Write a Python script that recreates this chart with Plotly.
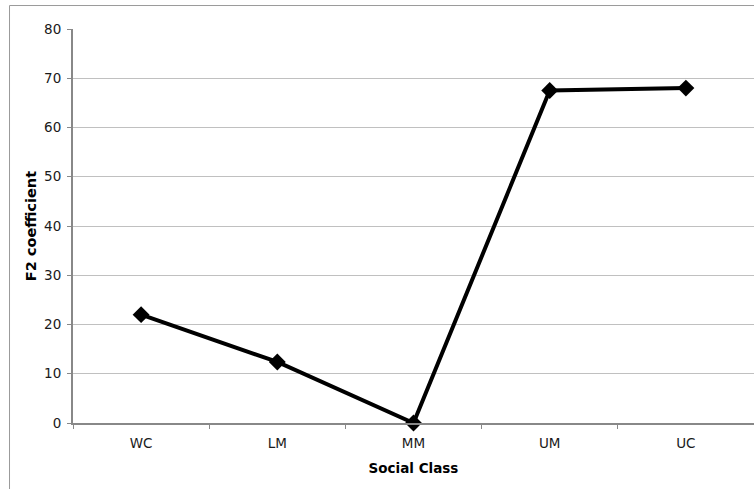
import plotly.graph_objects as go

categories = ["WC", "LM", "MM", "UM", "UC"]
f2_values = [22.0, 12.4, 0.0, 67.5, 68.0]
y_ticks = [0, 10, 20, 30, 40, 50, 60, 70, 80]

fig = go.Figure()
fig.add_trace(go.Scatter(
    x=categories, y=f2_values, mode="lines+markers",
    line=dict(color="black", width=4),
    marker=dict(symbol="diamond", size=13, color="black"),
    showlegend=False, cliponaxis=False,
))

font_family = "DejaVu Sans, Verdana, sans-serif"
fig.update_layout(
    width=754, height=489,
    margin=dict(l=73, r=0, t=29, b=66),
    paper_bgcolor="white", plot_bgcolor="white",
    font=dict(family=font_family, size=13.5, color="#1a1a1a"),
    xaxis=dict(
        type="category", range=[-0.5, 4.5],
        tickson="boundaries", ticks="outside", ticklen=4, tickcolor="#888888",
        showline=True, linecolor="#888888", linewidth=2,
        showgrid=False, zeroline=False, ticklabelstandoff=7,
        title=dict(text="<b>Social Class</b>", font=dict(size=13.5, color="black"), standoff=13),
        tickfont=dict(size=13.5),
    ),
    yaxis=dict(
        range=[0, 80], tickvals=y_ticks,
        ticks="outside", ticklen=4, tickcolor="#888888",
        showline=True, linecolor="#888888", linewidth=2,
        showgrid=True, gridcolor="#c0c0c0", gridwidth=1,
        zeroline=False, ticklabelstandoff=3,
        title=dict(text="<b>F2 coefficient</b>", font=dict(size=14.5, color="black"), standoff=4),
        tickfont=dict(size=13.5),
    ),
    shapes=[dict(
        type="rect", xref="paper", yref="paper",
        x0=-0.0932, x1=1.2, y0=-0.4, y1=1.0596,
        line=dict(color="#9a9a9a", width=1), fillcolor="rgba(0,0,0,0)", layer="below",
    )],
)

fig.write_html("out.html", config={"displayModeBar": False},
               post_script="document.body.style.margin='0';")
